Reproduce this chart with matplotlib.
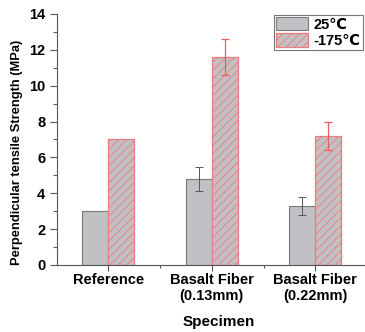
import matplotlib
matplotlib.use("Agg")
import matplotlib.pyplot as plt
import numpy as np
from matplotlib.ticker import MultipleLocator

categories = ["Reference", "Basalt Fiber\n(0.13mm)", "Basalt Fiber\n(0.22mm)"]
series_names = ["25\u2103", "-175\u2103"]
vals_25 = [3.0, 4.78, 3.27]
err_25 = [0.0, 0.68, 0.5]
vals_m175 = [7.0, 11.58, 7.19]
err_m175 = [0.0, 1.0, 0.79]

plt.rcParams['font.family'] = ['Liberation Sans', 'DejaVu Sans']
plt.rcParams['font.weight'] = 'bold'
plt.rcParams['hatch.linewidth'] = 0.6

fig = plt.figure(figsize=(3.65, 3.32), dpi=100)
ax = fig.add_axes([0.155, 0.202, 0.845, 0.756])

x = np.arange(1, len(categories) + 1)
w = 0.25
gray = '#c1c1c5'
red = '#f07a7a'
ax.bar(x - w/2, vals_25, w, color=gray, edgecolor='#7a7a7a', linewidth=0.8,
       label=series_names[0])
ax.bar(x + w/2, vals_m175, w, color=gray, edgecolor=red, linewidth=0.9,
       hatch='////', label=series_names[1])
idx = [i for i in range(len(x)) if err_25[i] > 0]
ax.errorbar((x - w/2)[idx], np.array(vals_25)[idx], yerr=np.array(err_25)[idx],
            fmt='none', ecolor='#555555', elinewidth=0.7, capsize=3, capthick=0.7)
idx = [i for i in range(len(x)) if err_m175[i] > 0]
ax.errorbar((x + w/2)[idx], np.array(vals_m175)[idx], yerr=np.array(err_m175)[idx],
            fmt='none', ecolor='#ec5c5c', elinewidth=0.9, capsize=3, capthick=0.9)

ax.set_xlim(0.5, 3.48)
ax.set_ylim(0, 14)
ax.yaxis.set_major_locator(MultipleLocator(2))
ax.yaxis.set_minor_locator(MultipleLocator(1))
ax.set_xticks(x)
ax.set_xticks(x[:-1] + 0.5, minor=True)
ax.set_xticklabels(categories, fontsize=10.5, fontweight='bold')
for lab in ax.get_yticklabels():
    lab.set_fontsize(10.5)
    lab.set_fontweight('bold')
ax.tick_params(axis='y', which='major', length=5, width=0.8, color='#555555', pad=3)
ax.tick_params(axis='y', which='minor', length=3, width=0.8, color='#555555')
ax.tick_params(axis='x', which='major', length=4, width=0.8, color='#555555', pad=2)
ax.tick_params(axis='x', which='minor', length=2.5, width=0.8, color='#555555')
ax.spines['top'].set_visible(False)
ax.spines['right'].set_visible(False)
ax.spines['left'].set_color('#555555')
ax.spines['bottom'].set_color('#555555')

ax.set_ylabel("Perpendicular tensile Strength (MPa)", fontsize=9.3, fontweight='bold')
ax.yaxis.set_label_coords(-0.108, 0.45)
ax.set_xlabel("Specimen", fontsize=11, fontweight='bold')
ax.xaxis.set_label_coords(0.525, -0.2)

leg = ax.legend(loc='upper right', bbox_to_anchor=(0.992, 0.997), fontsize=10.5,
                frameon=True, fancybox=False, edgecolor='#555555',
                handlelength=2.2, handleheight=1.05, borderpad=0.15,
                labelspacing=0.1, handletextpad=0.35, borderaxespad=0.0)
leg.get_frame().set_linewidth(0.8)
for t in leg.get_texts():
    t.set_fontweight('bold')

fig.savefig("out.png", dpi=100)
